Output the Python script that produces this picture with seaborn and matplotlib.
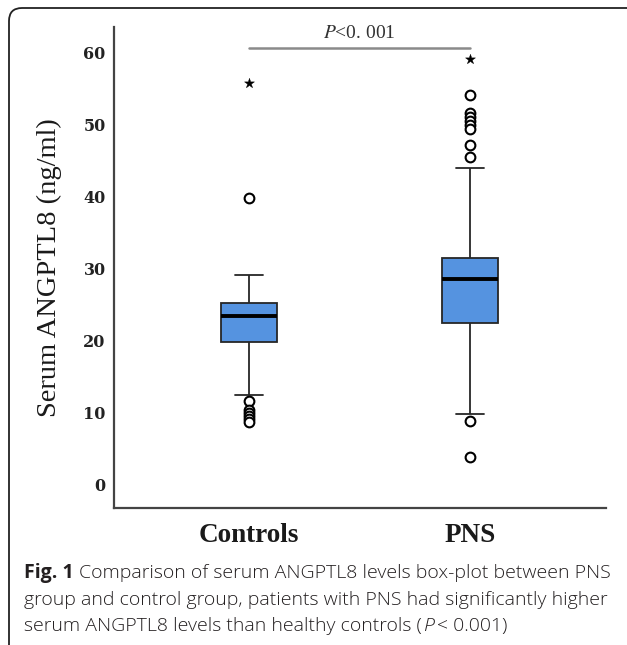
import matplotlib
matplotlib.use("Agg")
import matplotlib.pyplot as plt
from matplotlib.patches import FancyBboxPatch
import seaborn as sns
import pandas as pd

# ---- data ----
groups = ["Controls", "PNS"]
# five-number box summary: lower whisker, Q1, median, Q3, upper whisker
controls_box = [12.5, 19.9, 23.5, 25.3, 29.2]
pns_box = [9.9, 22.5, 28.6, 31.5, 44.0]
# outliers (circles) and extreme values (stars)
controls_outliers = [39.9, 11.7, 10.4, 10.0, 9.6, 9.2, 8.7]
pns_outliers = [54.2, 51.7, 51.1, 50.5, 50.0, 49.5, 47.2, 45.6, 8.9, 3.9]
controls_extremes = [55.8]
pns_extremes = [59.1]
y_ticks = [0, 10, 20, 30, 40, 50, 60]
p_text = "<0. 001"

box_df = pd.DataFrame({
    "group": [groups[0]] * len(controls_box) + [groups[1]] * len(pns_box),
    "value": controls_box + pns_box,
})
out_df = pd.DataFrame({
    "group": [groups[0]] * len(controls_outliers) + [groups[1]] * len(pns_outliers),
    "value": controls_outliers + pns_outliers,
})
ext_df = pd.DataFrame({
    "group": [groups[0]] * len(controls_extremes) + [groups[1]] * len(pns_extremes),
    "value": controls_extremes + pns_extremes,
})

sns.set_theme(style="white")
plt.rcParams["mathtext.fontset"] = "stix"

W, H = 627, 645
fig = plt.figure(figsize=(W / 100, H / 100), dpi=100)
fig.patch.set_facecolor("white")

L, R, T, B = 114, 606, 27, 508
ax = fig.add_axes([L / W, 1 - B / H, (R - L) / W, (B - T) / H])

box_color = "#5593E0"
edge = "#262626"
sns.boxplot(data=box_df, x="group", y="value", order=groups, ax=ax,
            width=0.25, whis=(0, 100), showfliers=False,
            color=box_color, saturation=1, linecolor=edge, linewidth=1.3,
            medianprops=dict(color="black", linewidth=2.8))
for p in ax.patches:
    p.set_facecolor(box_color)

sns.stripplot(data=out_df, x="group", y="value", order=groups, ax=ax,
              jitter=False, marker="o", color="white", edgecolor="black",
              linewidth=1.5, size=7, zorder=5)
sns.stripplot(data=ext_df, x="group", y="value", order=groups, ax=ax,
              jitter=False, marker="*", color="black", edgecolor="black",
              linewidth=0.3, size=7.5, zorder=5)

ax.set_xlim(-0.61, 1.615)
ax.set_ylim(-3.2, 63.6)
ax.set_yticks(y_ticks)
ax.set_yticklabels([str(t) for t in y_ticks], fontfamily="DejaVu Serif",
                   fontweight="bold", fontsize=11.5, color="#222222")
ax.set_xticks(range(len(groups)))
ax.set_xticklabels(groups, fontfamily="Liberation Serif", fontweight="bold",
                   fontsize=19.5, color="#1a1a1a")
ax.tick_params(axis="y", length=0, pad=6)
ax.tick_params(axis="x", length=0, pad=11)
ax.set_xlabel("")
ax.set_ylabel("Serum ANGPTL8 (ng/ml)", fontfamily="Liberation Serif",
              fontsize=20.5, color="#1a1a1a", va="center")
ax.yaxis.set_label_coords(-0.132, 0.5)
for s in ["top", "right"]:
    ax.spines[s].set_visible(False)
for s in ["left", "bottom"]:
    ax.spines[s].set_color("#444444")
    ax.spines[s].set_linewidth(1.6)
ax.set_facecolor("white")

# significance annotation
ax.plot([0, 1], [60.7, 60.7], color="#8a8a8a", linewidth=1.8, clip_on=False)
ax.text(0.5, 61.5, r"$\it{P}$" + p_text, ha="center", va="bottom",
        fontfamily="Liberation Serif", fontsize=14, color="#333333")

# rounded frame
frame = FancyBboxPatch((0.09, -0.2), 6.5, 6.57, boxstyle="round,pad=0,rounding_size=0.13",
                       transform=fig.dpi_scale_trans, fill=False,
                       edgecolor="#222222", linewidth=1.3)
fig.patches.append(frame)

# caption
renderer = fig.canvas.get_renderer()
cap_kw = dict(fontfamily="Open Sans", fontsize=14, fontweight="light",
              color="#231f20", va="baseline")


def width_of(s, **kw):
    t = fig.text(0, 0, s, **kw)
    w = t.get_window_extent(renderer).width
    t.remove()
    return w


space_w = width_of("x x", **cap_kw) - width_of("xx", **cap_kw)


def draw_line(pieces, x_px, y_px):
    # pieces: (text, extra props, gap-after in spaces)
    x = x_px
    for s, extra, gap in pieces:
        kw = dict(cap_kw)
        kw.update(extra)
        t = fig.text(x / W, 1 - y_px / H, s, **kw)
        x += t.get_window_extent(renderer).width + gap * space_w


x0 = 24
draw_line([("Fig. 1", {"fontweight": "bold"}, 1),
           ("Comparison of serum ANGPTL8 levels box-plot between PNS", {}, 0)], x0, 578)
draw_line([("group and control group, patients with PNS had significantly higher", {}, 0)], x0, 605)
draw_line([("serum ANGPTL8 levels than healthy controls (", {}, 0.25),
           ("P", {"fontstyle": "italic"}, 0.6),
           ("< 0.001)", {}, 0)], x0, 631)

fig.savefig("out.png", dpi=100, facecolor="white")
